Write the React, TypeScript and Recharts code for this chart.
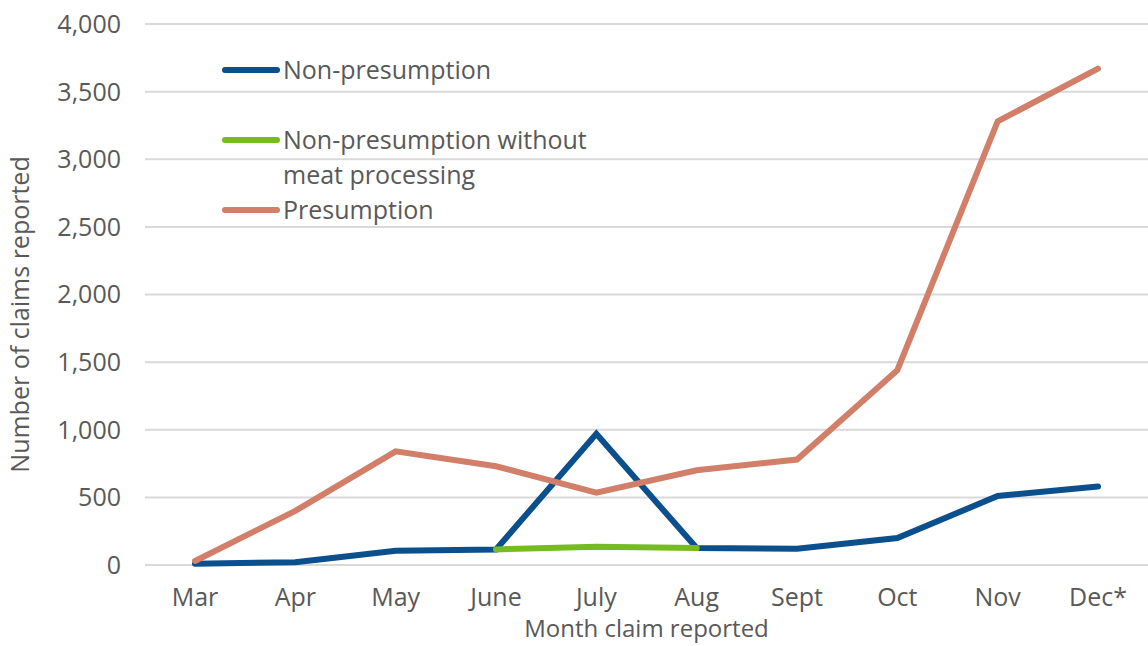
import { LineChart, Line, XAxis, YAxis, CartesianGrid } from "recharts";

const months = ["Mar", "Apr", "May", "June", "July", "Aug", "Sept", "Oct", "Nov", "Dec*"];
const nonPresumption = [10, 20, 105, 115, 970, 125, 120, 200, 510, 580];
const nonPresumptionNoMeat = [null, null, null, 115, 135, 125, null, null, null, null];
const presumption = [30, 400, 840, 730, 535, 700, 780, 1440, 3280, 3670];
const yTicks = [0, 500, 1000, 1500, 2000, 2500, 3000, 3500, 4000];

const data = months.map((m, i) => ({
  month: m,
  nonPresumption: nonPresumption[i],
  noMeat: nonPresumptionNoMeat[i],
  presumption: presumption[i],
}));

const FONT = "'Open Sans', sans-serif";
const TEXT = "#595959";
const FS = 25;

const legendItems = [
  { label: ["Non-presumption"], color: "#0B4F8C" },
  { label: ["Non-presumption without", "meat processing"], color: "#76BC21" },
  { label: ["Presumption"], color: "#D17F69" },
];

function ChartLegend() {
  return (
    <div style={{ position: "absolute", left: 222, top: 52, fontFamily: FONT, fontSize: FS, color: TEXT, lineHeight: "35px" }}>
      {legendItems.map((it, i) => (
        <div key={i} style={{ display: "flex", alignItems: "flex-start", marginBottom: i === 0 ? 35 : 0 }}>
          <div style={{ width: 58, height: 6, borderRadius: 3, background: it.color, marginTop: 15, marginRight: 3 }} />
          <div>
            {it.label.map((l, j) => (
              <div key={j}>{l}</div>
            ))}
          </div>
        </div>
      ))}
    </div>
  );
}

export default function App() {
  return (
    <div style={{ position: "absolute", left: 0, top: 0, width: 1148, height: 646, background: "#fff" }}>
      <LineChart width={1148} height={646} data={data} margin={{ top: 24, right: 0, left: 0, bottom: 51 }}>
        <CartesianGrid vertical={false} stroke="#D9D9D9" strokeWidth={2} />
        <XAxis
          dataKey="month"
          axisLine={false}
          tickLine={false}
          tickMargin={17}
          padding={{ left: 50, right: 50 }}
          interval={0}
          tick={{ fontSize: FS, fill: TEXT, fontFamily: FONT }}
          label={{ value: "Month claim reported", position: "insideBottom", offset: -42, fontSize: 24, fill: TEXT, fontFamily: FONT }}
        />
        <YAxis
          width={145}
          domain={[0, 4000]}
          ticks={yTicks}
          axisLine={false}
          tickLine={false}
          tickMargin={18}
          tickFormatter={(v: number) => v.toLocaleString("en-US")}
          tick={{ fontSize: FS, fill: TEXT, fontFamily: FONT }}
          label={{
            value: "Number of claims reported",
            angle: -90,
            position: "insideLeft",
            offset: 20,
            dy: 20,
            fontSize: FS,
            fill: TEXT,
            fontFamily: FONT,
            style: { textAnchor: "middle" },
          }}
        />
        <Line dataKey="nonPresumption" stroke="#0B4F8C" strokeWidth={6} dot={false} strokeLinecap="round" isAnimationActive={false} />
        <Line dataKey="noMeat" stroke="#76BC21" strokeWidth={6} dot={false} strokeLinecap="round" isAnimationActive={false} />
        <Line dataKey="presumption" stroke="#D17F69" strokeWidth={6} dot={false} strokeLinecap="round" isAnimationActive={false} />
      </LineChart>
      <ChartLegend />
    </div>
  );
}
